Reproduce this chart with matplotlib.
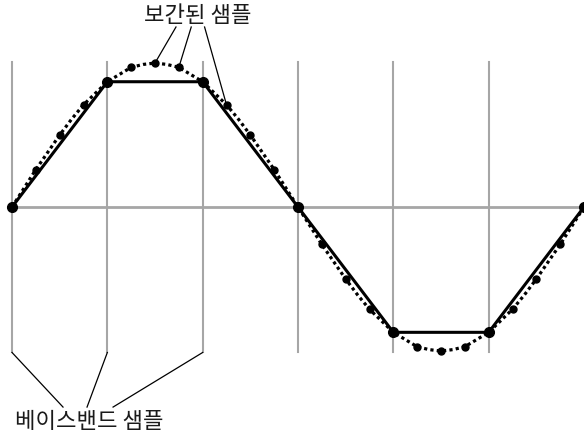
import matplotlib
matplotlib.use('Agg')
import matplotlib.pyplot as plt
import numpy as np

plt.rcParams['font.family'] = ['Noto Sans CJK KR', 'DejaVu Sans']

# baseband samples (one per grid line)
baseband_t = [0, 1, 2, 3, 4, 5, 6]
baseband_v = [0, 0.87, 0.87, 0, -0.87, -0.87, 0]

# interpolated samples (3 between each baseband pair)
interp_t = [0.25, 0.5, 0.75, 1.25, 1.5, 1.75, 2.25, 2.5, 2.75,
            3.25, 3.5, 3.75, 4.25, 4.5, 4.75, 5.25, 5.5, 5.75]
interp_v = [0.26, 0.5, 0.71, 0.97, 1.0, 0.97, 0.71, 0.5, 0.26,
            -0.26, -0.5, -0.71, -0.97, -1.0, -0.97, -0.71, -0.5, -0.26]

# dotted reference curve (8 points per interval)
curve_v = [0, 0.13, 0.26, 0.38, 0.5, 0.61, 0.71, 0.79,
           0.87, 0.92, 0.97, 0.99, 1.0, 0.99, 0.97, 0.92,
           0.87, 0.79, 0.71, 0.61, 0.5, 0.38, 0.26, 0.13,
           0, -0.13, -0.26, -0.38, -0.5, -0.61, -0.71, -0.79,
           -0.87, -0.92, -0.97, -0.99, -1.0, -0.99, -0.97, -0.92,
           -0.87, -0.79, -0.71, -0.61, -0.5, -0.38, -0.26, -0.13, 0]
curve_t = [i / 8 for i in range(len(curve_v))]

top_label = '보간된 샘플'
bottom_label = '베이스밴드 샘플'
top_pointed = [1.5, 1.75, 2.25]     # interpolated samples pointed at
bottom_pointed = [0, 1, 2]          # baseband grid lines pointed at


def main():
    fig = plt.figure(figsize=(5.84, 4.34), dpi=100)
    ax = fig.add_axes([0, 0, 1, 1])
    ax.set_xlim(-0.126, 6.0)
    ax.set_ylim(-1.576, 1.4375)
    ax.axis('off')

    gray = '#a6a6a6'
    for t in baseband_t[:-1]:
        ax.plot([t, t], [-1.01, 1.01], color=gray, lw=1.5, zorder=1)
    ax.plot([0, 6.2], [0, 0], color=gray, lw=2, zorder=1)

    ax.plot(curve_t, curve_v, color='black', lw=2.3, dashes=(1, 1),
            zorder=2)
    ax.plot(baseband_t, baseband_v, color='black', lw=2.2, zorder=3)
    ax.plot(interp_t, interp_v, 'o', color='black', ms=5, zorder=4)
    ax.plot(baseband_t, baseband_v, 'o', color='black', ms=7, zorder=5)

    # leader lines and labels
    top_starts = [(1.72, 1.25), (1.88, 1.25), (2.02, 1.25)]
    for (sx, sy), t in zip(top_starts, top_pointed):
        v = interp_v[interp_t.index(t)]
        ax.plot([sx, t], [sy, v], color='black', lw=0.9, zorder=3)
    ax.text(1.95, 1.33, top_label, ha='center', va='center',
            fontsize=16, color='#1a1a1a')

    bottom_ends = [(0.535, -1.389), (0.787, -1.389), (1.06, -1.389)]
    for t, (ex, ey) in zip(bottom_pointed, bottom_ends):
        ax.plot([t, ex], [-1.01, ey], color='black', lw=0.9, zorder=3)
    ax.text(0.81, -1.486, bottom_label, ha='center', va='center',
            fontsize=16, color='#1a1a1a')

    fig.savefig('out.png', dpi=100)


if __name__ == "__main__":
    main()
